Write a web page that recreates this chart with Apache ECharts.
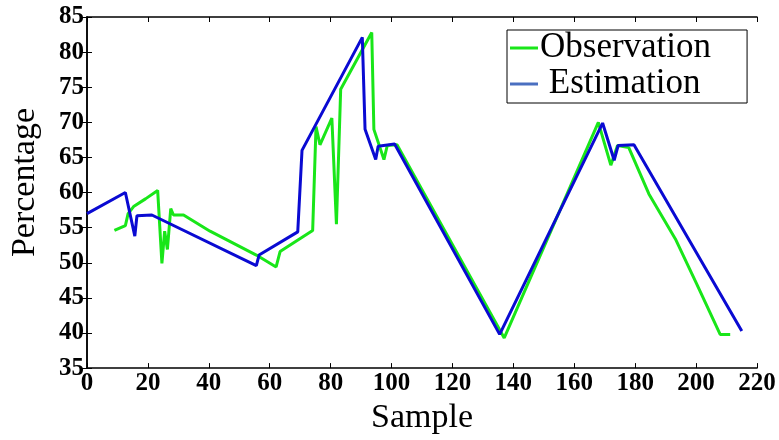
<!DOCTYPE html>
<html>
<head>
<meta charset="utf-8">
<script src="https://cdn.jsdelivr.net/npm/echarts@6/dist/echarts.min.js"></script>
<style>
  html, body { margin: 0; padding: 0; background: #fff; }
  #chart { width: 779px; height: 440px; }
</style>
</head>
<body>
<div id="chart"></div>
<script>
// values
var obsX = [9.0, 12.6, 13.5, 15.3, 19.2, 23.2, 24.6, 25.5, 26.4, 27.5, 28.4, 31.7, 40.4, 55.6, 62.1, 63.4, 74.1, 75.2, 76.5, 80.4, 81.9, 83.3, 93.5, 94.2, 97.5, 98.6, 101.8, 137.0, 167.9, 172.0, 174.2, 177.9, 184.5, 193.2, 200.3, 207.9, 211.2];
var obsY = [54.6, 55.3, 57.0, 58.0, 59.1, 60.3, 49.9, 54.5, 51.9, 57.7, 56.8, 56.8, 54.5, 51.1, 49.4, 51.6, 54.6, 69.4, 66.8, 70.6, 55.5, 74.7, 82.8, 69.0, 64.7, 66.7, 66.8, 39.3, 70.0, 63.9, 66.7, 66.4, 59.8, 53.4, 46.9, 39.8, 39.8];

var estX = [0, 12.6, 15.7, 16.4, 21.3, 55.6, 56.5, 69.2, 70.6, 90.4, 91.3, 94.8, 95.6, 101.0, 135.5, 169.3, 173.1, 174.4, 179.6, 215.0];
var estY = [57.0, 60.0, 53.8, 56.7, 56.8, 49.6, 51.1, 54.4, 66.0, 82.1, 69.0, 64.7, 66.6, 66.9, 39.8, 69.9, 64.6, 66.7, 66.8, 40.3];

var xTicks = {min: 0, max: 220, interval: 20};
var yTicks = {min: 35, max: 85, interval: 5};

function pairs(xs, ys) {
  var out = [];
  for (var i = 0; i < xs.length; i++) out.push([xs[i], ys[i]]);
  return out;
}

var serif = 'Liberation Serif';
var green = '#19e619';
var blue = '#0a0ad2';

var myChart = echarts.init(document.getElementById('chart'));
var option = {
  animation: false,
  backgroundColor: '#fff',
  grid: {left: 83, right: 22, top: 17, bottom: 60},
  legend: {
    orient: 'vertical',
    left: 507,
    top: 30,
    padding: [0, 36, 1, 3],
    itemGap: 0,
    icon: 'rect',
    itemWidth: 28,
    itemHeight: 3,
    borderColor: '#000',
    borderWidth: 1,
    backgroundColor: '#fff',
    formatter: function (name) { return name === 'Estimation' ? ' ' + name : name; },
    textStyle: {fontFamily: serif, fontSize: 35, color: '#000', lineHeight: 36, padding: [0, 0, 0, -3]},
    data: [
      {name: 'Observation', itemStyle: {color: green}},
      {name: 'Estimation', itemStyle: {color: '#4a6fc0'}}
    ]
  },
  xAxis: [{
    type: 'value',
    min: xTicks.min, max: xTicks.max, interval: xTicks.interval,
    name: 'Sample',
    nameLocation: 'middle',
    nameGap: 32,
    nameTextStyle: {fontFamily: serif, fontSize: 34, color: '#000'},
    splitLine: {show: false},
    axisLine: {lineStyle: {color: '#000', width: 1.5}},
    axisTick: {inside: true, length: 5, lineStyle: {color: '#000'}},
    axisLabel: {fontFamily: serif, fontSize: 25, fontWeight: 'bold', color: '#000', margin: 3}
  }, {
    type: 'value', position: 'top',
    min: xTicks.min, max: xTicks.max, interval: xTicks.interval,
    splitLine: {show: false},
    axisLine: {lineStyle: {color: '#000', width: 1.5}},
    axisTick: {inside: true, length: 5, lineStyle: {color: '#000'}},
    axisLabel: {show: false}
  }],
  yAxis: [{
    type: 'value',
    min: yTicks.min, max: yTicks.max, interval: yTicks.interval,
    name: 'Percentage',
    nameLocation: 'middle',
    nameGap: 45,
    nameTextStyle: {fontFamily: serif, fontSize: 34, color: '#000', padding: [0, 0, 0, 20]},
    splitLine: {show: false},
    axisLine: {lineStyle: {color: '#000', width: 1.5}},
    axisTick: {inside: true, length: 5, lineStyle: {color: '#000'}},
    axisLabel: {fontFamily: serif, fontSize: 25, fontWeight: 'bold', color: '#000', margin: 3}
  }, {
    type: 'value', position: 'right',
    min: yTicks.min, max: yTicks.max, interval: yTicks.interval,
    splitLine: {show: false},
    axisLine: {lineStyle: {color: '#000', width: 1.5}},
    axisTick: {inside: true, length: 5, lineStyle: {color: '#000'}},
    axisLabel: {show: false}
  }],
  series: [{
    name: 'Observation',
    type: 'line',
    data: pairs(obsX, obsY),
    showSymbol: false,
    lineStyle: {color: green, width: 3},
    itemStyle: {color: green}
  }, {
    name: 'Estimation',
    type: 'line',
    data: pairs(estX, estY),
    showSymbol: false,
    lineStyle: {color: blue, width: 3},
    itemStyle: {color: blue}
  }]
};
myChart.setOption(option);
</script>
</body>
</html>
